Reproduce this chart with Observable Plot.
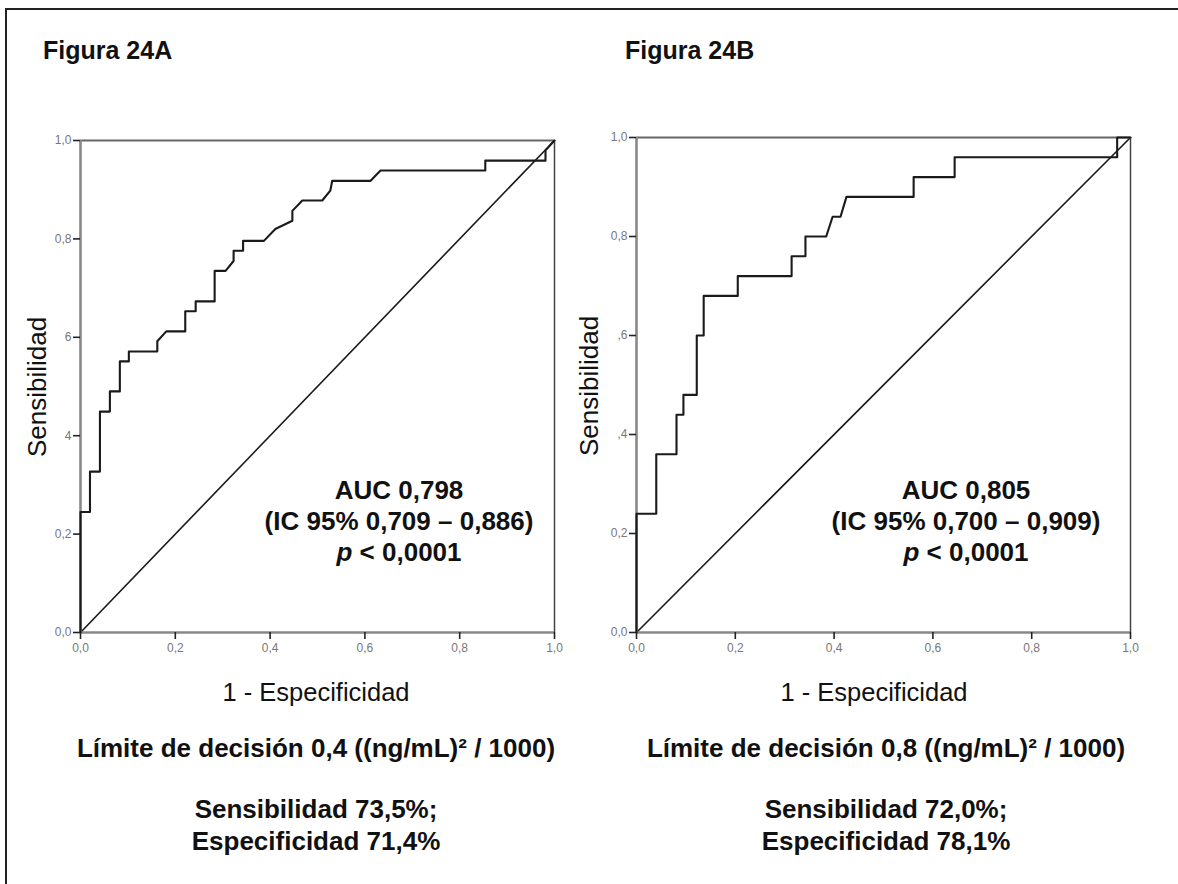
<!DOCTYPE html>
<html><head><meta charset="utf-8">
<script src="https://cdn.jsdelivr.net/npm/d3@7"></script>
<script src="https://cdn.jsdelivr.net/npm/@observablehq/plot@0.6"></script>
<style>
body{margin:0;background:#fff;}
#page{position:relative;width:1178px;height:884px;overflow:hidden;font-family:"Liberation Sans",Arial,sans-serif;background:#fff;}
.t{position:absolute;white-space:nowrap;line-height:1;color:#111;}
.b{font-weight:bold;}
.frame{position:absolute;left:5px;top:8px;width:1300px;height:1000px;border-left:2px solid #222;border-top:2px solid #222;}
.panel{position:absolute;}
</style></head><body><div id="page"><div class="frame"></div></div>
<script>
// ---- data ----
const axisTicks = [0, 0.2, 0.4, 0.6, 0.8, 1];
const xTickLabels = ["0,0", "0,2", "0,4", "0,6", "0,8", "1,0"];
const yTickLabelsA = ["0,0", "0,2", "4", "6", "0,8", "1,0"];
const yTickLabelsB = ["0,0", "0,2", ",4", ",6", "0,8", "1,0"];
const chanceLine = [0, 1];

const fprA = [0, 0, 0.02, 0.02, 0.041, 0.041, 0.062, 0.062, 0.083, 0.083, 0.102, 0.102, 0.162, 0.162, 0.181, 0.221, 0.221, 0.243, 0.243, 0.283, 0.283, 0.306, 0.323, 0.323, 0.343, 0.343, 0.387, 0.411, 0.447, 0.447, 0.468, 0.510, 0.527, 0.531, 0.612, 0.633, 0.854, 0.854, 0.981, 0.981, 1];
const tprA = [0, 0.245, 0.245, 0.327, 0.327, 0.449, 0.449, 0.490, 0.490, 0.551, 0.551, 0.571, 0.571, 0.592, 0.612, 0.612, 0.653, 0.653, 0.673, 0.673, 0.735, 0.735, 0.755, 0.776, 0.776, 0.796, 0.796, 0.820, 0.837, 0.857, 0.878, 0.878, 0.898, 0.918, 0.918, 0.939, 0.939, 0.959, 0.959, 0.980, 1];

const fprB = [0, 0, 0.04, 0.04, 0.081, 0.081, 0.095, 0.095, 0.122, 0.122, 0.136, 0.136, 0.205, 0.205, 0.314, 0.314, 0.342, 0.342, 0.384, 0.397, 0.413, 0.425, 0.561, 0.561, 0.644, 0.644, 0.973, 0.973, 1];
const tprB = [0, 0.24, 0.24, 0.36, 0.36, 0.44, 0.44, 0.48, 0.48, 0.60, 0.60, 0.68, 0.68, 0.72, 0.72, 0.76, 0.76, 0.80, 0.80, 0.84, 0.84, 0.88, 0.88, 0.92, 0.92, 0.96, 0.96, 1.0, 1];

const titles = ["Figura 24A", "Figura 24B"];
const aucLines = [["AUC 0,798", "(IC 95% 0,709 – 0,886)"], ["AUC 0,805", "(IC 95% 0,700 – 0,909)"]];
const limitLines = ["Límite de decisión 0,4 ((ng/mL)² / 1000)", "Límite de decisión 0,8 ((ng/mL)² / 1000)"];
const sensLines = ["Sensibilidad 73,5%;", "Sensibilidad 72,0%;"];
const specLines = ["Especificidad 71,4%", "Especificidad 78,1%"];

// ---- drawing ----
const page = document.getElementById("page");
const idx = d => Math.round(d * 5);

function panel(fpr, tpr, yLabels, box) {
  const roc = fpr.map((x, i) => ({x, y: tpr[i]}));
  const diag = chanceLine.map(v => ({x: v, y: v}));
  const svg = Plot.plot({
    width: box.w, height: box.h,
    marginLeft: box.ml, marginRight: box.mr, marginTop: box.mt, marginBottom: box.mb,
    x: {domain: [0, 1]}, y: {domain: [0, 1]},
    style: {background: "transparent", overflow: "visible", fontFamily: "Liberation Sans, Arial, sans-serif"},
    marks: [
      Plot.line(diag, {x: "x", y: "y", stroke: "#1a1a1a", strokeWidth: 1.6}),
      Plot.ruleY([1], {stroke: "#666", strokeWidth: 1.8}),
      Plot.ruleX([1], {stroke: "#444", strokeWidth: 1.5}),
      Plot.ruleX([0], {stroke: "#888", strokeWidth: 2.6}),
      Plot.ruleY([0], {stroke: "#888", strokeWidth: 2.6}),
      Plot.line(roc, {x: "x", y: "y", stroke: "#1a1a1a", strokeWidth: 2.1}),
      Plot.axisX({ticks: axisTicks, tickFormat: d => xTickLabels[idx(d)], tickSize: 7, tickPadding: 4,
        stroke: "#222", strokeWidth: 1.6, fill: "#777", fontSize: 12, label: null}),
      Plot.axisY({ticks: axisTicks, tickFormat: d => yLabels[idx(d)], tickSize: 7, tickPadding: 2,
        stroke: "#222", strokeWidth: 1.6, fill: "#777", fontSize: 12, label: null})
    ]
  });
  svg.classList.add("panel");
  svg.style.left = box.left + "px";
  svg.style.top = box.top + "px";
  page.appendChild(svg);
}

panel(fprA, tprA, yTickLabelsA, {left: 0, top: 100, w: 580, h: 600, ml: 80, mr: 26, mt: 40, mb: 68});
panel(fprB, tprB, yTickLabelsB, {left: 580, top: 97, w: 570, h: 603, ml: 56, mr: 20, mt: 40, mb: 68});

function txt(html, cx, cy, fs, cls, anchor) {
  const d = document.createElement("div");
  d.className = "t " + (cls || "");
  d.innerHTML = html;
  d.style.fontSize = fs + "px";
  d.style.top = (cy - 0.49 * fs) + "px";
  d.style.left = cx + "px";
  if (anchor !== "start") d.style.transform = "translateX(-50%)";
  page.appendChild(d);
  return d;
}
function vtxt(s, cx, cy, fs) {
  const d = document.createElement("div");
  d.className = "t";
  d.textContent = s;
  d.style.fontSize = fs + "px";
  d.style.left = cx + "px";
  d.style.top = cy + "px";
  d.style.transform = "translate(-50%,-50%) rotate(-90deg)";
  page.appendChild(d);
}

const layout = [
  {titleX: 43, sensX: 37, sensY: 387, xlabX: 316, aucX: 399, botX: 316},
  {titleX: 625, sensX: 589, sensY: 386, xlabX: 874, aucX: 966, botX: 886}
];
layout.forEach((L, k) => {
  txt(titles[k], L.titleX, 50, 25, "b", "start");
  vtxt("Sensibilidad", L.sensX, L.sensY, 26);
  txt("1 - Especificidad", L.xlabX, 692, 25.5, "");
  txt(aucLines[k][0], L.aucX, 490, 26, "b");
  txt(aucLines[k][1], L.aucX, 521, 26, "b");
  txt("<i>p</i> &lt; 0,0001", L.aucX, 552, 26, "b");
  txt(limitLines[k], L.botX, 748, 26, "b");
  txt(sensLines[k], L.botX, 809, 26, "b");
  txt(specLines[k], L.botX, 841, 26, "b");
});
</script></body></html>
